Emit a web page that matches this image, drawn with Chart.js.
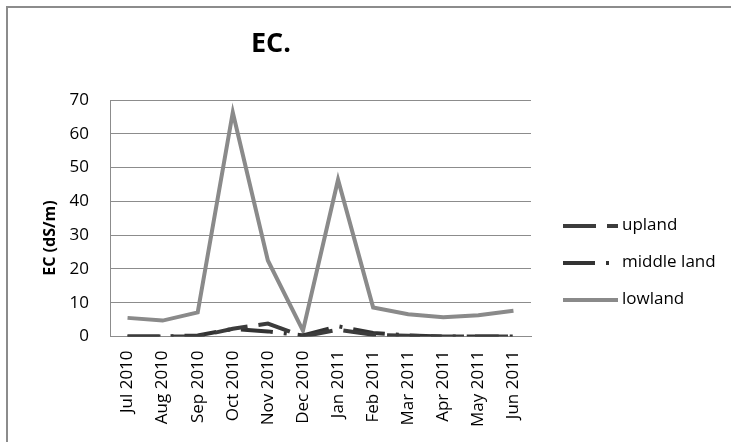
<!DOCTYPE html>
<html lang="en">
<head>
    <meta charset="UTF-8">
    <title>EC.</title>
    <style>
        body { margin: 0; background: #fff; overflow: hidden; }
        #frame {
            position: absolute; left: 6px; top: 6px;
            width: 900px; height: 600px;
            border-left: 2px solid #8c8c8c; border-top: 2px solid #8c8c8c;
        }
        #ecChart { position: absolute; left: 0; top: 0; }
    </style>
    <script src="https://cdn.jsdelivr.net/npm/chart.js"></script>
</head>
<body>
    <div id="frame"></div>
    <canvas id="ecChart" width="731" height="442"></canvas>

    <script>
        // chart data
        const months = ['Jul 2010', 'Aug 2010', 'Sep 2010', 'Oct 2010', 'Nov 2010', 'Dec 2010',
                        'Jan 2011', 'Feb 2011', 'Mar 2011', 'Apr 2011', 'May 2011', 'Jun 2011'];
        const upland     = [0, 0, 0, 2.3, 3.8, 0, 2.0, 0.5, 0.2, 0, 0, 0];
        const middleLand = [0, 0, 0.3, 2.2, 1.5, 0.3, 3.0, 1.0, 0.3, 0, 0, 0];
        const lowland    = [5.5, 4.7, 7.1, 66.3, 22.5, 1.7, 46.4, 8.6, 6.6, 5.7, 6.3, 7.6];
        const yTicks = [0, 10, 20, 30, 40, 50, 60, 70];

        const chartTitle = 'EC.';
        const yTitle = 'EC (dS/m)';
        const fontFamily = '"Open Sans", "DejaVu Sans", sans-serif';

        // chart title and axis title sit off-centre, as in the original sheet
        const titlePlugin = {
            id: 'sheetTitles',
            afterDraw(chart) {
                const ctx = chart.ctx;
                ctx.save();
                ctx.fillStyle = '#000';
                ctx.textAlign = 'center';
                ctx.textBaseline = 'middle';
                ctx.font = 'bold 27px ' + fontFamily;
                ctx.fillText(chartTitle, 271, 44);

                ctx.translate(50, 238);
                ctx.rotate(-Math.PI / 2);
                ctx.font = 'bold 16px ' + fontFamily;
                ctx.fillText(yTitle, 0, 0);
                ctx.restore();
            }
        };

        // legend to the right of the plot, built from the datasets
        const sideLegend = {
            id: 'sideLegend',
            afterDraw(chart) {
                const ctx = chart.ctx;
                const area = chart.chartArea;
                const x0 = area.right + 32;
                ctx.save();
                ctx.font = '17px ' + fontFamily;
                ctx.textBaseline = 'middle';
                chart.data.datasets.forEach((ds, i) => {
                    const y = area.top + 126 + i * 37;
                    ctx.strokeStyle = ds.borderColor;
                    ctx.lineWidth = ds.borderWidth;
                    ctx.setLineDash(ds.borderDash || []);
                    ctx.beginPath();
                    ctx.moveTo(x0, y);
                    ctx.lineTo(x0 + 55, y);
                    ctx.stroke();
                    ctx.fillStyle = '#000';
                    ctx.fillText(ds.label, x0 + 59, y - 1);
                });
                ctx.restore();
            }
        };

        const ctx = document.getElementById('ecChart').getContext('2d');
        new Chart(ctx, {
            type: 'line',
            data: {
                labels: months,
                datasets: [{
                    label: 'upland',
                    data: upland,
                    borderColor: '#3c3c3c',
                    borderWidth: 4,
                    borderDash: [33, 11],
                    pointRadius: 0,
                    tension: 0
                }, {
                    label: 'middle land',
                    data: middleLand,
                    borderColor: '#333333',
                    borderWidth: 4,
                    borderDash: [32, 11, 3, 11],
                    pointRadius: 0,
                    tension: 0
                }, {
                    label: 'lowland',
                    data: lowland,
                    borderColor: '#8a8a8a',
                    borderWidth: 4,
                    pointRadius: 0,
                    tension: 0
                }]
            },
            options: {
                responsive: false,
                animation: false,
                layout: { padding: { top: 100, left: 34, right: 200, bottom: 9 } },
                plugins: {
                    tooltip: { enabled: false },
                    legend: { display: false }
                },
                scales: {
                    x: {
                        offset: true,
                        grid: { display: false },
                        border: { display: true, color: '#8c8c8c', width: 1 },
                        ticks: {
                            autoSkip: false,
                            minRotation: 90,
                            maxRotation: 90,
                            padding: 6,
                            color: '#000',
                            font: { family: fontFamily, size: 17 }
                        }
                    },
                    y: {
                        min: 0,
                        max: 70,
                        afterBuildTicks(scale) {
                            scale.ticks = yTicks.map(v => ({ value: v }));
                        },
                        afterFit(scale) { scale.width = 76; },
                        grid: { color: '#8c8c8c', lineWidth: 1, drawTicks: false },
                        border: { display: true, color: '#8c8c8c', width: 1 },
                        ticks: {
                            padding: 21,
                            color: '#000',
                            font: { family: fontFamily, size: 17 }
                        }
                    }
                }
            },
            plugins: [titlePlugin, sideLegend]
        });
    </script>
</body>
</html>
